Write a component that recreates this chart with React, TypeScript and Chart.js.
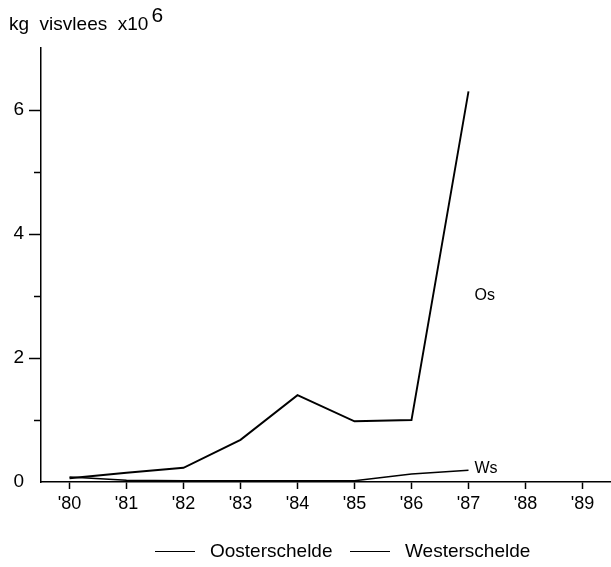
import React, { useEffect, useRef } from "react";
import { Chart, registerables } from "chart.js";

Chart.register(...registerables);

const years = ["'80", "'81", "'82", "'83", "'84", "'85", "'86", "'87", "'88", "'89"];
const oosterschelde = [0.06, 0.15, 0.23, 0.68, 1.4, 0.98, 1.0, 6.3, null, null];
const westerschelde = [0.08, 0.03, 0.02, 0.02, 0.02, 0.02, 0.13, 0.19, null, null];
const majorTicks = [2, 4, 6];
const minorTicks = [1, 3, 5];
const legendNames = ["Oosterschelde", "Westerschelde"];
const yTitle = "kg  visvlees  x10";
const yTitleSup = "6";

const FONT = "'Liberation Sans', Arial, Helvetica, sans-serif";

const textPlugin = {
  id: "textPlugin",
  afterDraw(chart: any) {
    const ctx = chart.ctx;
    const x = chart.scales.x;
    const y = chart.scales.y;
    ctx.save();
    ctx.fillStyle = "#000";
    ctx.strokeStyle = "#000";
    // minor ticks
    ctx.lineWidth = 1.5;
    for (const v of minorTicks) {
      const py = Math.round(y.getPixelForValue(v)) + 0.5;
      ctx.beginPath();
      ctx.moveTo(chart.chartArea.left - 7, py);
      ctx.lineTo(chart.chartArea.left, py);
      ctx.stroke();
    }
    // axis title
    ctx.font = `19px ${FONT}`;
    ctx.textBaseline = "alphabetic";
    ctx.textAlign = "left";
    ctx.fillText(yTitle, 9, 30);
    const w = ctx.measureText(yTitle).width;
    ctx.font = `21px ${FONT}`;
    ctx.fillText(yTitleSup, 9 + w + 3, 22);
    // series labels
    ctx.font = `16px ${FONT}`;
    ctx.textBaseline = "middle";
    ctx.fillText("Os", x.getPixelForValue(7) + 6, y.getPixelForValue(3.0));
    ctx.fillText("Ws", x.getPixelForValue(7) + 6, y.getPixelForValue(westerschelde[7] as number) - 2);
    // legend
    const ly = 551;
    ctx.lineWidth = 1;
    ctx.font = `19px ${FONT}`;
    const starts = [155, 350];
    legendNames.forEach((name, i) => {
      ctx.beginPath();
      ctx.moveTo(starts[i], ly + 0.5);
      ctx.lineTo(starts[i] + 40, ly + 0.5);
      ctx.stroke();
      ctx.fillText(name, starts[i] + 55, ly + 1);
    });
    ctx.restore();
  },
};

export default function App() {
  const ref = useRef<HTMLCanvasElement>(null);
  useEffect(() => {
    if (!ref.current) return;
    const chart = new Chart(ref.current, {
      type: "line",
      data: {
        labels: years,
        datasets: [
          {
            label: legendNames[0],
            data: oosterschelde,
            borderColor: "#000",
            borderWidth: 1.9,
            pointRadius: 0,
            tension: 0,
          },
          {
            label: legendNames[1],
            data: westerschelde,
            borderColor: "#000",
            borderWidth: 1.5,
            pointRadius: 0,
            tension: 0,
          },
        ],
      },
      options: {
        responsive: false,
        animation: false,
        layout: { padding: { top: 48, left: 0, right: 0, bottom: 0 } },
        plugins: { legend: { display: false }, tooltip: { enabled: false } },
        scales: {
          x: {
            type: "category",
            offset: true,
            afterFit: (s: any) => {
              s.height = 85;
            },
            grid: {
              drawOnChartArea: false,
              drawTicks: true,
              tickLength: 7,
              tickColor: "#000",
              tickWidth: 1.5,
            },
            border: { display: true, color: "#000", width: 1.5 },
            ticks: {
              color: "#000",
              font: { family: FONT, size: 18 },
              padding: 4,
              maxRotation: 0,
              autoSkip: false,
            },
          },
          y: {
            min: 0,
            max: 7,
            afterFit: (s: any) => {
              s.width = 41;
            },
            grid: {
              drawOnChartArea: false,
              drawTicks: true,
              tickLength: 12,
              tickWidth: 1.5,
              tickColor: (c: any) =>
                c.tick && majorTicks.includes(c.tick.value) ? "#000" : "rgba(0,0,0,0)",
            },
            border: { display: true, color: "#000", width: 1.5 },
            ticks: {
              stepSize: 1,
              color: "#000",
              font: { family: FONT, size: 19 },
              padding: 5,
              callback: (v: any) =>
                v === 0 || majorTicks.includes(v) ? String(v) : "",
            },
          },
        },
      },
      plugins: [textPlugin],
    });
    return () => chart.destroy();
  }, []);
  return (
    <div style={{ position: "absolute", left: 0, top: 0, width: 611, height: 567, background: "#fff" }}>
      <canvas ref={ref} width={611} height={567} />
    </div>
  );
}
